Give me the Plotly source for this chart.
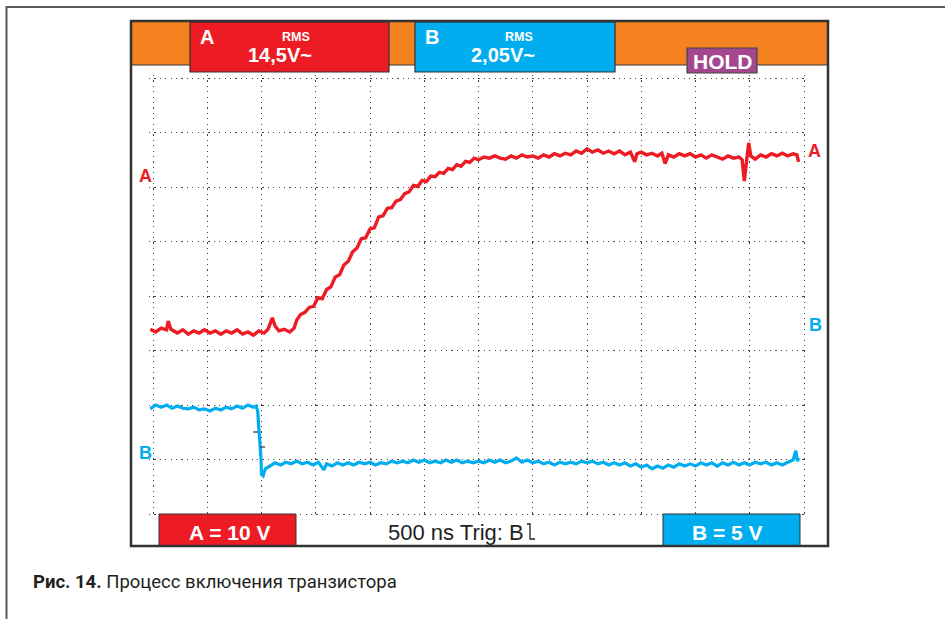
import plotly.graph_objects as go

# ---- data (divisions) ----
ta = [-0.05, 0.05, 0.15, 0.25, 0.28, 0.33, 0.45, 0.55, 0.65, 0.75, 0.85, 0.95, 1.05, 1.15, 1.25,
      1.35, 1.45, 1.55, 1.65, 1.75, 1.85, 1.95, 2.05, 2.12, 2.2, 2.25, 2.32, 2.42, 2.52, 2.6,
      2.65, 2.72, 2.8, 2.88, 2.96, 3.04, 3.12, 3.2, 3.28, 3.36, 3.44, 3.52, 3.6, 3.68, 3.76,
      3.84, 3.92, 4.0, 4.08, 4.16, 4.24, 4.32, 4.4, 4.48, 4.56, 4.64, 4.72, 4.8, 4.88, 4.96,
      5.04, 5.12, 5.2, 5.28, 5.36, 5.44, 5.52, 5.6, 5.68, 5.76, 5.84, 5.92, 6.0, 6.1, 6.2,
      6.3, 6.4, 6.5, 6.6, 6.7, 6.8, 6.9, 7.0, 7.1, 7.2, 7.3, 7.4, 7.5, 7.6, 7.7,
      7.8, 7.9, 8.0, 8.1, 8.2, 8.3, 8.4, 8.5, 8.6, 8.7, 8.8, 8.88, 8.92, 9.0, 9.1,
      9.2, 9.3, 9.38, 9.44, 9.5, 9.6, 9.7, 9.8, 9.9, 10.0, 10.1, 10.2, 10.3, 10.4, 10.5,
      10.6, 10.7, 10.8, 10.86, 10.9, 10.94, 10.98, 11.02, 11.1, 11.2, 11.3, 11.4, 11.5, 11.6, 11.7,
      11.8, 11.87, 11.9]
va = [3.39, 3.34, 3.41, 3.38, 3.54, 3.39, 3.32, 3.38, 3.30, 3.36, 3.32, 3.38, 3.32, 3.36, 3.30,
      3.36, 3.32, 3.38, 3.30, 3.34, 3.28, 3.36, 3.32, 3.39, 3.60, 3.45, 3.36, 3.39, 3.34, 3.41,
      3.56, 3.66, 3.70, 3.79, 3.81, 3.97, 3.95, 4.12, 4.17, 4.35, 4.39, 4.57, 4.64, 4.81, 4.88,
      5.05, 5.07, 5.23, 5.25, 5.45, 5.47, 5.61, 5.62, 5.74, 5.77, 5.88, 5.91, 6.03, 6.01, 6.12,
      6.10, 6.20, 6.19, 6.27, 6.25, 6.34, 6.32, 6.41, 6.38, 6.47, 6.45, 6.53, 6.50, 6.55, 6.53,
      6.57, 6.53, 6.51, 6.57, 6.53, 6.59, 6.55, 6.57, 6.53, 6.59, 6.55, 6.61, 6.57, 6.62, 6.59,
      6.66, 6.62, 6.70, 6.64, 6.68, 6.62, 6.66, 6.61, 6.66, 6.59, 6.64, 6.46, 6.61, 6.64, 6.59,
      6.62, 6.57, 6.62, 6.43, 6.59, 6.55, 6.61, 6.57, 6.61, 6.55, 6.59, 6.53, 6.59, 6.55, 6.51,
      6.57, 6.53, 6.55, 6.50, 6.11, 6.53, 6.81, 6.57, 6.51, 6.59, 6.55, 6.61, 6.57, 6.62, 6.57,
      6.61, 6.59, 6.46]

tb = [-0.05, 0.05, 0.15, 0.25, 0.35, 0.45, 0.55, 0.65, 0.75, 0.85, 0.95, 1.05, 1.15, 1.25, 1.35,
      1.45, 1.55, 1.65, 1.75, 1.85, 1.9, 1.93, 1.95, 1.97, 1.99, 2.0, 2.03, 2.07, 2.15, 2.25,
      2.35, 2.45, 2.55, 2.65, 2.75, 2.85, 2.95, 3.05, 3.15, 3.2, 3.3, 3.4, 3.5, 3.6, 3.7,
      3.8, 3.9, 4.0, 4.1, 4.2, 4.3, 4.4, 4.5, 4.6, 4.7, 4.8, 4.9, 5.0, 5.1, 5.2,
      5.3, 5.4, 5.5, 5.6, 5.7, 5.8, 5.9, 6.0, 6.1, 6.2, 6.3, 6.4, 6.5, 6.6, 6.7,
      6.8, 6.9, 7.0, 7.1, 7.2, 7.3, 7.4, 7.5, 7.6, 7.7, 7.8, 7.9, 8.0, 8.1, 8.2,
      8.3, 8.4, 8.5, 8.6, 8.7, 8.8, 8.9, 9.0, 9.1, 9.2, 9.3, 9.4, 9.5, 9.6, 9.7,
      9.8, 9.9, 10.0, 10.1, 10.2, 10.3, 10.4, 10.5, 10.6, 10.7, 10.8, 10.9, 11.0, 11.1, 11.2,
      11.3, 11.4, 11.5, 11.6, 11.7, 11.8, 11.85, 11.88, 11.9]
vb = [1.93, 2.00, 1.96, 2.00, 1.94, 1.98, 1.94, 1.93, 1.96, 1.91, 1.93, 1.89, 1.94, 1.91, 1.96,
      1.93, 1.98, 1.94, 2.00, 1.96, 1.98, 1.89, 1.58, 1.36, 1.03, 0.73, 0.70, 0.83, 0.88, 0.94,
      0.90, 0.95, 0.92, 0.97, 0.92, 0.95, 0.90, 0.95, 0.81, 0.92, 0.88, 0.94, 0.90, 0.94, 0.90,
      0.95, 0.92, 0.95, 0.90, 0.94, 0.92, 0.97, 0.94, 0.97, 0.94, 0.99, 0.95, 0.99, 0.94, 0.97,
      0.94, 0.99, 0.95, 0.99, 0.94, 0.97, 0.94, 0.97, 0.94, 0.99, 0.95, 0.99, 0.94, 0.97, 1.03,
      0.95, 0.99, 0.94, 0.97, 0.92, 0.95, 0.90, 0.95, 0.92, 0.95, 0.92, 0.97, 0.94, 0.97, 0.92,
      0.95, 0.90, 0.94, 0.90, 0.94, 0.88, 0.92, 0.86, 0.90, 0.83, 0.88, 0.84, 0.90, 0.86, 0.92,
      0.88, 0.92, 0.88, 0.94, 0.90, 0.94, 0.88, 0.94, 0.90, 0.95, 0.90, 0.94, 0.90, 0.95, 0.92,
      0.95, 0.90, 0.94, 0.90, 0.95, 0.99, 1.16, 0.97, 1.03]

RED = "#ED1C24"
CYAN = "#00AEEF"
ORANGE = "#F58220"
PURPLE = "#A4478E"
W, H = 945, 619


def px(x):
    return x / W


def py(y):
    return 1 - y / H


fig = go.Figure()
fig.add_trace(go.Scatter(x=ta, y=va, mode="lines", line=dict(color=RED, width=3.4), hoverinfo="skip"))
fig.add_trace(go.Scatter(x=tb, y=vb, mode="lines", line=dict(color=CYAN, width=3.2), hoverinfo="skip"))

# axes: grid 0..12 maps to px 153..804, 0..8 maps to py 514..78
xl, xr = 149, 808
yt, yb = 75, 517
xs = 651 / 12
ys = 436 / 8
fig.update_xaxes(domain=[px(xl), px(xr)], range=[(xl - 153) / xs, (xr - 153) / xs],
                 dtick=1, tick0=0, showgrid=True, gridcolor="#444", gridwidth=1.2,
                 griddash="1.2px,4.2px", zeroline=False, showticklabels=False, ticks="",
                 showline=False, fixedrange=True)
fig.update_yaxes(domain=[py(yb), py(yt)], range=[(514 - yb) / ys, 8 + (78 - yt) / ys],
                 dtick=1, tick0=0, showgrid=True, gridcolor="#444", gridwidth=1.2,
                 griddash="1.2px,4.2px", zeroline=False, showticklabels=False, ticks="",
                 showline=False, fixedrange=True)

shapes = []


def rect(x0, y0, x1, y1, fill, line="#333", lw=1.2, layer="above"):
    shapes.append(dict(type="rect", xref="paper", yref="paper", x0=px(x0), x1=px(x1),
                       y0=py(y1), y1=py(y0), fillcolor=fill, line=dict(color=line, width=lw),
                       layer=layer))


def hline(x0, x1, y, color="#555", lw=2):
    shapes.append(dict(type="line", xref="paper", yref="paper", x0=px(x0), x1=px(x1),
                       y0=py(y), y1=py(y), line=dict(color=color, width=lw), layer="above"))


def vline(x, y0, y1, color="#555", lw=2):
    shapes.append(dict(type="line", xref="paper", yref="paper", x0=px(x), x1=px(x),
                       y0=py(y0), y1=py(y1), line=dict(color=color, width=lw), layer="above"))


# outer frame
hline(6, 945, 7, "#5a5a5a", 2)
vline(6.5, 6, 619, "#5a5a5a", 2)
# top orange bar
rect(131, 21, 828, 65, ORANGE, "#3a3a3a", 1.2)
# channel boxes
rect(190, 22, 389, 72, RED, "#333", 1.2)
rect(415, 22, 615, 72, CYAN, "#333", 1.2)
rect(687, 48, 757, 73, PURPLE, "#444", 1.2)
# bottom boxes
rect(159, 514, 296, 546, RED, "#333", 1)
rect(663, 514, 800, 546, CYAN, "#333", 1)
# scope frame
rect(131, 21, 828, 546, "rgba(0,0,0,0)", "#333", 2.5)
# trigger marks
hline(253, 258, 432, "#333", 1.2)
hline(260, 265, 447, "#333", 1.2)
# trigger falling-edge symbol
shapes.append(dict(type="path", xref="paper", yref="paper",
                   path="M %f,%f L %f,%f L %f,%f L %f,%f" % (px(527), py(524), px(530), py(524),
                                                            px(530), py(539), px(535), py(539)),
                   line=dict(color="#231F20", width=1.3), layer="above"))

ann = []


def text(x, y, s, size, color="white", bold=True, family="Liberation Sans, Arial, sans-serif",
         xanchor="center"):
    ann.append(dict(x=px(x), y=py(y), xref="paper", yref="paper", text=("<b>%s</b>" % s) if bold else s,
                    showarrow=False, xanchor=xanchor, yanchor="middle",
                    font=dict(size=size, color=color, family=family)))


text(206.5, 37.5, "A", 20)
text(296, 37.5, "RMS", 12.5)
text(280, 55, "14,5V~", 20)
text(432, 37.5, "B", 20)
text(519, 37.5, "RMS", 12.5)
text(503, 55, "2,05V~", 20)
text(722.5, 61, "HOLD", 21)
text(230, 532, "A = 10 V", 21)
text(727, 532, "B = 5 V", 21)
text(386, 532, "500 ns Trig: B", 22, color="#231F20", bold=False, xanchor="left")
text(145, 176, "A", 18, color=RED)
text(814.5, 150.5, "A", 18, color=RED)
text(815, 324.5, "B", 18, color=CYAN)
text(145, 452.5, "B", 18, color=CYAN)
text(31, 582, "<b>Рис. 14.</b> Процесс включения транзистора", 18.5, color="#231F20", bold=False,
     family="Roboto, sans-serif", xanchor="left")

fig.update_layout(width=W, height=H, margin=dict(l=0, r=0, t=0, b=0),
                  paper_bgcolor="white", plot_bgcolor="white", showlegend=False,
                  shapes=shapes, annotations=ann)

fig.write_html("out.html", config={"displayModeBar": False},
               post_script="document.body.style.margin='0';")
